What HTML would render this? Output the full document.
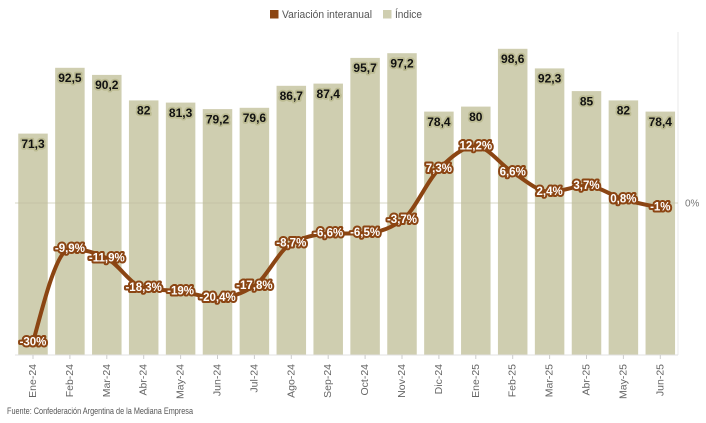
<!DOCTYPE html>
<html><head><meta charset="utf-8"><style>
html,body{margin:0;padding:0;background:#fff;}
svg{display:block;font-family:"Liberation Sans",sans-serif;}
.bl{font-size:12px;font-weight:bold;fill:#111;stroke:#bdbc93;stroke-width:3.5px;paint-order:stroke;stroke-linejoin:round;text-anchor:middle;}
.ll{font-size:11.5px;font-weight:bold;fill:#fff;stroke:#8b4513;stroke-width:4px;paint-order:stroke;stroke-linejoin:round;text-anchor:middle;dominant-baseline:central;}
.xl{font-size:10.5px;fill:#666;text-anchor:end;dominant-baseline:central;}
</style></head><body>
<svg width="706" height="423" viewBox="0 0 706 423">
<rect x="270" y="10" width="8.5" height="8.5" fill="#8b4513"/>
<text x="282" y="18" font-size="11" fill="#555" textLength="90" lengthAdjust="spacingAndGlyphs">Variación interanual</text>
<rect x="383" y="10" width="8.5" height="8.5" fill="#cfceb0"/>
<text x="395" y="18" font-size="11" fill="#555" textLength="27" lengthAdjust="spacingAndGlyphs">Índice</text>
<line x1="678" y1="32" x2="678" y2="355" stroke="#e8e8e8" stroke-width="1"/>
<g fill="#cfceb0">
<rect x="18.25" y="133.6" width="29.5" height="221.4"/>
<rect x="55.15" y="67.8" width="29.5" height="287.2"/>
<rect x="92.05" y="74.9" width="29.5" height="280.1"/>
<rect x="128.95" y="100.4" width="29.5" height="254.6"/>
<rect x="165.85" y="102.6" width="29.5" height="252.4"/>
<rect x="202.75" y="109.1" width="29.5" height="245.9"/>
<rect x="239.65" y="107.8" width="29.5" height="247.2"/>
<rect x="276.55" y="85.8" width="29.5" height="269.2"/>
<rect x="313.45" y="83.6" width="29.5" height="271.4"/>
<rect x="350.35" y="57.9" width="29.5" height="297.1"/>
<rect x="387.25" y="53.2" width="29.5" height="301.8"/>
<rect x="424.15" y="111.6" width="29.5" height="243.4"/>
<rect x="461.05" y="106.6" width="29.5" height="248.4"/>
<rect x="497.95" y="48.8" width="29.5" height="306.2"/>
<rect x="534.85" y="68.4" width="29.5" height="286.6"/>
<rect x="571.75" y="91.1" width="29.5" height="263.9"/>
<rect x="608.65" y="100.4" width="29.5" height="254.6"/>
<rect x="645.55" y="111.6" width="29.5" height="243.4"/>
</g>
<line x1="15" y1="203" x2="678" y2="203" stroke="#bdbca0" stroke-opacity="0.6" stroke-width="1"/>
<line x1="15" y1="355" x2="678" y2="355" stroke="#e0e0e0" stroke-width="1"/>
<g stroke="#ccc" stroke-width="1">
<line x1="33" y1="355" x2="33" y2="359"/><line x1="69.9" y1="355" x2="69.9" y2="359"/><line x1="106.8" y1="355" x2="106.8" y2="359"/><line x1="143.7" y1="355" x2="143.7" y2="359"/><line x1="180.6" y1="355" x2="180.6" y2="359"/><line x1="217.5" y1="355" x2="217.5" y2="359"/><line x1="254.4" y1="355" x2="254.4" y2="359"/><line x1="291.3" y1="355" x2="291.3" y2="359"/><line x1="328.2" y1="355" x2="328.2" y2="359"/><line x1="365.1" y1="355" x2="365.1" y2="359"/><line x1="402" y1="355" x2="402" y2="359"/><line x1="438.9" y1="355" x2="438.9" y2="359"/><line x1="475.8" y1="355" x2="475.8" y2="359"/><line x1="512.7" y1="355" x2="512.7" y2="359"/><line x1="549.6" y1="355" x2="549.6" y2="359"/><line x1="586.5" y1="355" x2="586.5" y2="359"/><line x1="623.4" y1="355" x2="623.4" y2="359"/><line x1="660.3" y1="355" x2="660.3" y2="359"/>
</g>
<text class="bl" x="33" y="147.9">71,3</text>
<text class="bl" x="69.9" y="82.1">92,5</text>
<text class="bl" x="106.8" y="89.2">90,2</text>
<text class="bl" x="143.7" y="114.7">82</text>
<text class="bl" x="180.6" y="116.9">81,3</text>
<text class="bl" x="217.5" y="123.4">79,2</text>
<text class="bl" x="254.4" y="122.1">79,6</text>
<text class="bl" x="291.3" y="100.1">86,7</text>
<text class="bl" x="328.2" y="97.9">87,4</text>
<text class="bl" x="365.1" y="72.2">95,7</text>
<text class="bl" x="402" y="67.5">97,2</text>
<text class="bl" x="438.9" y="125.9">78,4</text>
<text class="bl" x="475.8" y="120.9">80</text>
<text class="bl" x="512.7" y="63.1">98,6</text>
<text class="bl" x="549.6" y="82.7">92,3</text>
<text class="bl" x="586.5" y="105.4">85</text>
<text class="bl" x="623.4" y="114.7">82</text>
<text class="bl" x="660.3" y="125.9">78,4</text>
<path fill="none" stroke="#8b4513" stroke-width="4" stroke-linejoin="round" stroke-linecap="round" d="M33,342.5 C45.3,295.75 57.6,249 69.9,249 C82.2,249 94.5,252.1 106.8,258.3 C119.1,264.5 131.4,285.9 143.7,288.1 C156,290.3 168.3,289.77 180.6,291.4 C192.9,293.03 205.2,297.9 217.5,297.9 C229.8,297.9 242.1,293.87 254.4,285.8 C266.7,277.73 279,250.03 291.3,243.5 C303.6,236.97 315.9,234.03 328.2,233.7 C340.5,233.37 352.8,233.53 365.1,233.2 C377.4,232.87 389.7,228.87 402,220.2 C414.3,211.53 426.6,181.42 438.9,169.1 C451.2,156.78 463.5,146.3 475.8,146.3 C488.1,146.3 500.4,164.72 512.7,172.3 C525,179.88 537.3,191.8 549.6,191.8 C561.9,191.8 574.2,185.8 586.5,185.8 C598.8,185.8 611.1,195.66 623.4,199.3 C635.7,202.94 648,205.3 660.3,207.65"/>
<text class="ll" x="33" y="342.5">-30%</text>
<text class="ll" x="69.9" y="249">-9,9%</text>
<text class="ll" x="106.8" y="258.3">-11,9%</text>
<text class="ll" x="143.7" y="288.1">-18,3%</text>
<text class="ll" x="180.6" y="291.4">-19%</text>
<text class="ll" x="217.5" y="297.9">-20,4%</text>
<text class="ll" x="254.4" y="285.8">-17,8%</text>
<text class="ll" x="291.3" y="243.5">-8,7%</text>
<text class="ll" x="328.2" y="233.7">-6,6%</text>
<text class="ll" x="365.1" y="233.2">-6,5%</text>
<text class="ll" x="402" y="220.2">-3,7%</text>
<text class="ll" x="438.9" y="169.1">7,3%</text>
<text class="ll" x="475.8" y="146.3">12,2%</text>
<text class="ll" x="512.7" y="172.3">6,6%</text>
<text class="ll" x="549.6" y="191.8">2,4%</text>
<text class="ll" x="586.5" y="185.8">3,7%</text>
<text class="ll" x="623.4" y="199.3">0,8%</text>
<text class="ll" x="660.3" y="207.65">-1%</text>
<text x="685" y="206.5" font-size="10" fill="#777">0%</text>
<g>
<text class="xl" transform="translate(33,364) rotate(-90)">Ene-24</text>
<text class="xl" transform="translate(69.9,364) rotate(-90)">Feb-24</text>
<text class="xl" transform="translate(106.8,364) rotate(-90)">Mar-24</text>
<text class="xl" transform="translate(143.7,364) rotate(-90)">Abr-24</text>
<text class="xl" transform="translate(180.6,364) rotate(-90)">May-24</text>
<text class="xl" transform="translate(217.5,364) rotate(-90)">Jun-24</text>
<text class="xl" transform="translate(254.4,364) rotate(-90)">Jul-24</text>
<text class="xl" transform="translate(291.3,364) rotate(-90)">Ago-24</text>
<text class="xl" transform="translate(328.2,364) rotate(-90)">Sep-24</text>
<text class="xl" transform="translate(365.1,364) rotate(-90)">Oct-24</text>
<text class="xl" transform="translate(402,364) rotate(-90)">Nov-24</text>
<text class="xl" transform="translate(438.9,364) rotate(-90)">Dic-24</text>
<text class="xl" transform="translate(475.8,364) rotate(-90)">Ene-25</text>
<text class="xl" transform="translate(512.7,364) rotate(-90)">Feb-25</text>
<text class="xl" transform="translate(549.6,364) rotate(-90)">Mar-25</text>
<text class="xl" transform="translate(586.5,364) rotate(-90)">Abr-25</text>
<text class="xl" transform="translate(623.4,364) rotate(-90)">May-25</text>
<text class="xl" transform="translate(660.3,364) rotate(-90)">Jun-25</text>
</g>
<text x="7" y="414" font-size="9.5" fill="#555" textLength="186" lengthAdjust="spacingAndGlyphs">Fuente: Confederación Argentina de la Mediana Empresa</text>
</svg>
</body></html>
